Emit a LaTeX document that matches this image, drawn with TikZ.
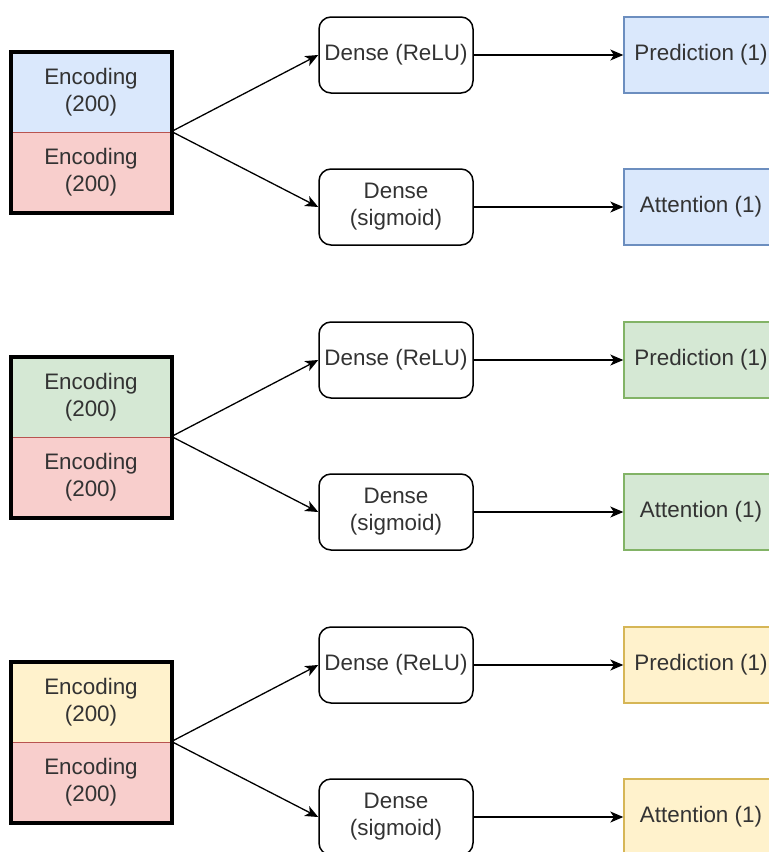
\documentclass[tikz,border=0pt]{standalone}
\usepackage{fontspec}
\setmainfont{Liberation Sans}
\usetikzlibrary{positioning,arrows.meta}

\definecolor{azulf}{HTML}{DAE8FC}
\definecolor{azull}{HTML}{6C8EBF}
\definecolor{rojof}{HTML}{F8CECC}
\definecolor{rojol}{HTML}{B85450}
\definecolor{verdef}{HTML}{D5E8D4}
\definecolor{verdel}{HTML}{82B366}
\definecolor{amarf}{HTML}{FFF2CC}
\definecolor{amarl}{HTML}{D6B656}

\tikzset{
  texto/.style={font=\fontsize{11.2}{13.5}\selectfont, text=black!80, align=center},
  capa/.style={texto, draw, rounded corners=6pt, line width=0.75pt, minimum width=77pt, minimum height=38pt, inner sep=1pt},
  salida/.style={texto, draw=#1l, fill=#1f, line width=0.7pt, minimum width=77pt, minimum height=38pt, inner sep=1pt},
  mitad/.style={texto, draw=#1l, fill=#1f, line width=0.5pt, minimum width=80pt, minimum height=40pt, inner sep=0pt},
  flecha/.style={-{Stealth[length=6.5pt,width=5.5pt,inset=1.8pt]}, line width=0.65pt}
}

\begin{document}
\begin{tikzpicture}[x=0.5pt, y=-0.5pt]
  % Marco de la figura
  \useasboundingbox (0,0) rectangle (769,852);
  \clip (0,0) rectangle (769,852);

  \foreach \g/\c in {0/azul, 1/verde, 2/amar} {
    \pgfmathsetmacro{\dy}{305*\g}

    % Codificacion (dos mitades)
    \node[mitad=\c] (enctop\g) at (91,{92+\dy}) {Encoding\\(200)};
    \node[mitad=rojo] (encbot\g) at (91,{172+\dy}) {Encoding\\(200)};
    \draw[line width=2pt] (enctop\g.north west) rectangle (encbot\g.south east);

    % Capas densas
    \node[capa] (relu\g) at (396,{55+\dy}) {Dense (ReLU)};
    \node[capa] (sig\g) at (396,{207+\dy}) {Dense\\(sigmoid)};

    % Salidas
    \node[salida=\c] (pred\g) at (701,{55+\dy}) {Prediction (1)};
    \node[salida=\c] (att\g) at (701,{207+\dy}) {Attention (1)};

    % Conexiones
    \draw[flecha] (encbot\g.north east) -- (relu\g.west);
    \draw[flecha] (encbot\g.north east) -- (sig\g.west);
    \draw[flecha] (relu\g) -- (pred\g);
    \draw[flecha] (sig\g) -- (att\g);
  }
\end{tikzpicture}
\end{document}
